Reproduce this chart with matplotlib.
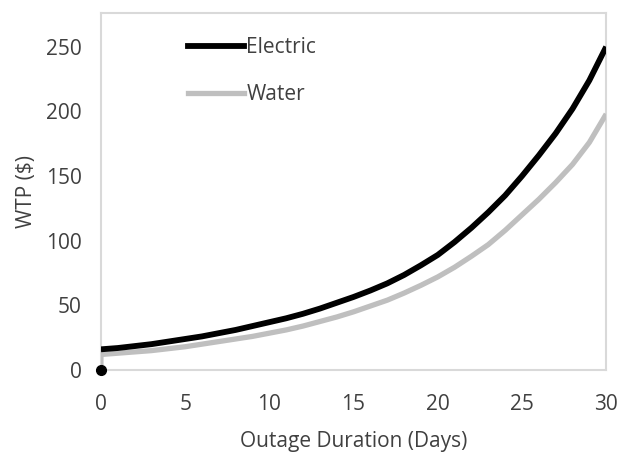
import matplotlib
matplotlib.use("Agg")
import matplotlib.pyplot as plt
from matplotlib.lines import Line2D

plt.rcParams['font.family'] = ['Open Sans', 'DejaVu Sans']

days = [0, 0, 1, 2, 3, 4, 5, 6, 7, 8, 9, 10, 11, 12, 13, 14, 15, 16, 17, 18, 19, 20,
        21, 22, 23, 24, 25, 26, 27, 28, 29, 30]
electric = [0, 16, 17, 18.5, 20, 22, 24, 26, 28.5, 31, 34, 37, 40, 43.5, 47.5, 52, 56.5,
            61.5, 67, 73.5, 81, 89, 99, 110, 122, 135, 150, 166, 183, 202, 224, 250]
water = [0, 12, 13, 14, 15, 16.5, 18, 20, 22, 24, 26, 28.5, 31, 34, 37.5, 41, 45,
         49.5, 54, 59.5, 65.5, 72, 79.5, 88, 97, 108, 120, 132, 145, 159, 176, 198]
origin_point = (0, 0)

xticks = [0, 5, 10, 15, 20, 25, 30]
yticks = [0, 50, 100, 150, 200, 250]

txt = '#404040'
fs = 15
fig = plt.figure(figsize=(6.23, 4.54), dpi=100)
ax = fig.add_axes([0.162, 0.185, 0.811, 0.786])

ax.plot(days[1:], electric[1:], color='black', lw=4.2, solid_capstyle='butt',
        solid_joinstyle='round', zorder=4)
ax.plot(days, water, color='#bfbfbf', lw=3.8, solid_capstyle='butt',
        solid_joinstyle='round', zorder=3)
ax.plot([origin_point[0]], [origin_point[1]], 'o', color='black', ms=7, clip_on=False, zorder=5)

ax.set_xlim(0, 30)
ax.set_ylim(0, 276)
ax.set_xticks(xticks)
ax.set_yticks(yticks)
ax.tick_params(length=0, labelsize=fs, colors=txt)
ax.tick_params(axis='y', pad=14)
ax.tick_params(axis='x', pad=17)
for s in ax.spines.values():
    s.set_color('#d9d9d9')
    s.set_linewidth(1.5)
ax.set_xlabel('Outage Duration (Days)', fontsize=fs, color=txt, labelpad=12)
ax.set_ylabel('WTP ($)', fontsize=fs, color=txt, labelpad=6)

handles = [Line2D([], [], color='black', lw=4.2), Line2D([], [], color='#bfbfbf', lw=3.8)]
leg = ax.legend(handles, ['Electric', 'Water'], loc='upper left', bbox_to_anchor=(0.135, 0.985),
                frameon=False, fontsize=fs, handlelength=2.7, handletextpad=0.1,
                labelspacing=1.25, labelcolor=txt)

fig.savefig('out.png', dpi=100)
